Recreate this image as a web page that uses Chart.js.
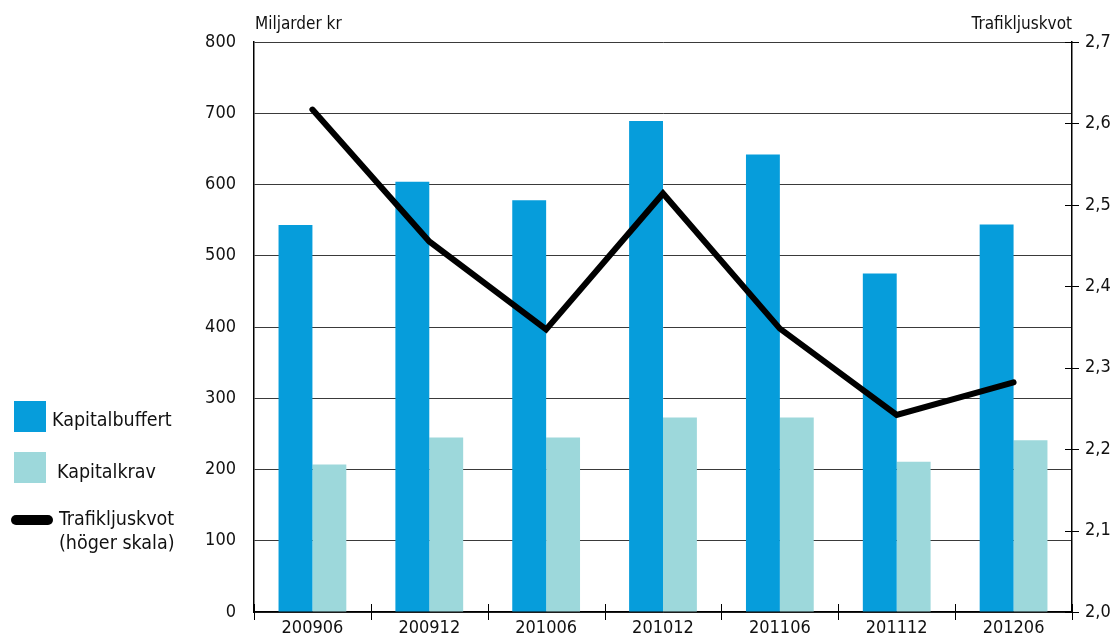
<!DOCTYPE html>
<html>
<head>
<meta charset="utf-8">
<script src="https://cdn.jsdelivr.net/npm/chart.js@4/dist/chart.umd.min.js"></script>
<style>
  body { margin: 0; background: #fff; }
  #wrap { position: relative; width: 1112px; height: 641px; font-family: 'DejaVu Sans Condensed', 'DejaVu Sans', sans-serif; color: #111; }
  canvas { position: absolute; left: 0; top: 0; }
  .lbl { position: absolute; white-space: nowrap; }
  .box { position: absolute; width: 32px; height: 31px; }
</style>
</head>
<body>
<div id="wrap">
  <canvas id="chart" width="1112" height="641"></canvas>
  <div class="lbl" style="left:255px; top:13px; font-size:17px;">Miljarder kr</div>
  <div class="lbl" style="right:40px; top:13px; font-size:17px;">Trafikljuskvot</div>

  <div class="box" style="left:14px; top:401px; background:#069ddb;"></div>
  <div class="lbl" style="left:52px; top:408px; font-size:19.5px;">Kapitalbuffert</div>
  <div class="box" style="left:14px; top:452px; background:#9dd8db;"></div>
  <div class="lbl" style="left:57px; top:460px; font-size:19.5px;">Kapitalkrav</div>
  <div style="position:absolute; left:11px; top:515px; width:42px; height:10px; border-radius:5px; background:#000;"></div>
  <div class="lbl" style="left:59px; top:507px; font-size:19.5px;">Trafikljuskvot</div>
  <div class="lbl" style="left:59px; top:531px; font-size:19.5px;">(höger skala)</div>
</div>
<script>
var periods = ['200906', '200912', '201006', '201012', '201106', '201112', '201206'];
var kapitalbuffert = [543, 604, 578, 689, 642, 475, 544];
var kapitalkrav = [207, 245, 245, 273, 273, 211, 241];
var trafikljuskvot = [2.617, 2.455, 2.347, 2.514, 2.348, 2.242, 2.282];

var tickFont = { family: "'DejaVu Sans Condensed', 'DejaVu Sans', sans-serif", size: 18 };

// short tick marks crossing the right axis and the category axis
var crossTicks = {
    id: 'crossTicks',
    afterDraw: function(chart){
        var ctx = chart.ctx;
        var area = chart.chartArea;
        var y1 = chart.scales.y1;
        var x = chart.scales.x;
        ctx.save();
        ctx.strokeStyle = '#000';
        ctx.lineWidth = 1;
        ctx.beginPath();
        y1.ticks.forEach(function(t, i){
            var py = Math.round(y1.getPixelForTick(i)) + 0.5;
            ctx.moveTo(area.right - 7, py);
            ctx.lineTo(area.right + 7, py);
        });
        for (var i = 0; i <= periods.length; i++) {
            var px = Math.round(x.getPixelForValue(i - 0.5)) + 0.5;
            ctx.moveTo(px, area.bottom - 8);
            ctx.lineTo(px, area.bottom + 8);
        }
        ctx.stroke();
        ctx.restore();
    }
};

new Chart(document.getElementById('chart').getContext('2d'), {
    type: 'bar',
    data: {
        labels: periods,
        datasets: [
            {
                type: 'line',
                label: 'Trafikljuskvot',
                data: trafikljuskvot,
                yAxisID: 'y1',
                borderColor: '#000',
                borderWidth: 6,
                borderCapStyle: 'round',
                pointRadius: 0,
                tension: 0,
                order: 0
            },
            {
                label: 'Kapitalbuffert',
                data: kapitalbuffert,
                backgroundColor: '#069ddb',
                categoryPercentage: 0.58,
                barPercentage: 1,
                order: 1
            },
            {
                label: 'Kapitalkrav',
                data: kapitalkrav,
                backgroundColor: '#9dd8db',
                categoryPercentage: 0.58,
                barPercentage: 1,
                order: 1
            }
        ]
    },
    options: {
        responsive: false,
        animation: false,
        devicePixelRatio: 1,
        layout: { padding: { top: 42, left: 0, right: 0, bottom: 0 } },
        plugins: {
            legend: { display: false },
            tooltip: { enabled: false }
        },
        scales: {
            x: {
                offset: true,
                grid: { display: false },
                border: { display: true, color: '#000', width: 1.5 },
                ticks: { color: '#111', font: tickFont, padding: -2, maxRotation: 0 },
                afterFit: function(s){ s.height = 29; }
            },
            y: {
                position: 'left',
                min: 0,
                max: 800,
                ticks: { stepSize: 100, color: '#111', font: tickFont, padding: 18 },
                grid: { color: '#3a3a3a', lineWidth: 1, drawTicks: false },
                border: { display: true, color: '#000', width: 1.5 },
                afterFit: function(s){ s.width = 254; }
            },
            y1: {
                position: 'right',
                min: 2.0,
                max: 2.7,
                ticks: {
                    stepSize: 0.1,
                    color: '#111',
                    font: tickFont,
                    padding: 13,
                    callback: function(v){ return v.toFixed(1).replace('.', ','); }
                },
                grid: { display: false, drawOnChartArea: false, drawTicks: false },
                border: { display: true, color: '#000', width: 1.5 },
                afterFit: function(s){ s.width = 40; }
            }
        }
    },
    plugins: [crossTicks]
});
</script>
</body>
</html>
